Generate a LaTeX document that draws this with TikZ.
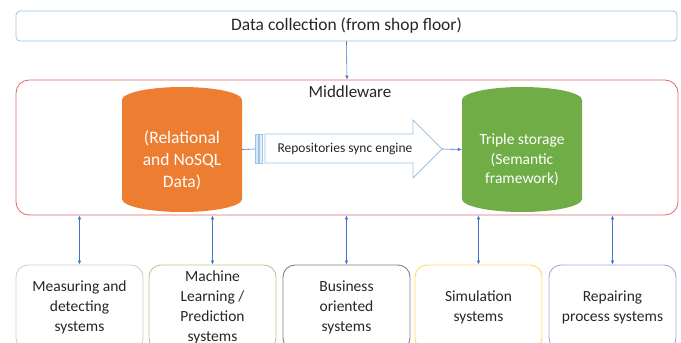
\documentclass[tikz,border=0pt]{standalone}
\usepackage{fontspec}
\setmainfont{Carlito}
\usetikzlibrary{arrows.meta}
\definecolor{topblue}{HTML}{9DC3E6}
\definecolor{midred}{HTML}{E06666}
\definecolor{linkblue}{HTML}{4472C4}
\definecolor{dborange}{HTML}{ED7D31}
\definecolor{dbgreen}{HTML}{70AD47}
\definecolor{bgray}{HTML}{D0D0D0}
\definecolor{bgreen}{HTML}{A9D18E}
\definecolor{bdark}{HTML}{808080}
\definecolor{byellow}{HTML}{FFD966}
\definecolor{bpurple}{HTML}{B4A0DC}
\begin{document}
\begin{tikzpicture}[x=1pt,y=-1pt,
  txt/.style={font=\fontsize{15.5}{20}\selectfont, align=center, text=black!85},
  sysbox/.style={draw, line width=0.9pt, rounded corners=12pt, minimum width=127pt, minimum height=85pt, txt},
  link/.style={draw=linkblue, line width=0.6pt, -{Latex[length=4pt,width=3.5pt]}},
  blink/.style={draw=linkblue, line width=0.6pt, {Latex[length=4pt,width=3.5pt]}-{Latex[length=4pt,width=3.5pt]}},
  dbtxt/.style={font=\fontsize{17.5}{22}\selectfont, align=center, text=white}]
\useasboundingbox (0,0) rectangle (681,343);
% top box
\node[draw=topblue, line width=0.8pt, rounded corners=4pt, minimum width=661pt, minimum height=30pt, txt, font=\fontsize{17.5}{20}\selectfont] (data) at (346.5,26) {Data collection (from shop floor)};
% middleware
\node[draw=midred, line width=0.8pt, rounded corners=13pt, minimum width=662pt, minimum height=135pt] (mw) at (347,147.5) {};
\node[txt, font=\fontsize{17}{20}\selectfont] (mwlabel) at (350,92) {Middleware};
\draw[link] (data.south) -- (mw.north);
% orange cylinder
\fill[dborange] (122,100) -- (122,199) arc[start angle=180, end angle=0, x radius=60, y radius=13] -- (242,100) arc[start angle=0, end angle=-180, x radius=60, y radius=13] -- cycle;
\node[minimum width=120pt, minimum height=125pt, inner sep=0pt] (db1) at (182,149.5) {};
\node[dbtxt] (db1t) at (182,160) {(Relational\\and NoSQL\\Data)};
% green cylinder
\fill[dbgreen] (462,100) -- (462,199) arc[start angle=180, end angle=0, x radius=60, y radius=13] -- (582,100) arc[start angle=0, end angle=-180, x radius=60, y radius=13] -- cycle;
\node[minimum width=120pt, minimum height=125pt, inner sep=0pt] (db2) at (522,149.5) {};
\node[dbtxt, font=\fontsize{15.5}{19.5}\selectfont] (db2t) at (522,160) {Triple storage\\(Semantic\\framework)};
% block arrow
\draw[topblue, line width=0.8pt, fill=white] (265,134) -- (413,134) -- (413,120) -- (442,149) -- (413,178) -- (413,163) -- (265,163) -- cycle;
\draw[topblue, line width=0.8pt, fill=topblue!40] (255,134) rectangle (258.5,163);
\draw[topblue, line width=0.8pt, fill=topblue!25] (259.5,134) rectangle (262.5,163);
\node[font=\fontsize{13.5}{16}\selectfont, text=black!85] (sync) at (345,149) {Repositories sync engine};
\coordinate (synctail) at (255,149);
\coordinate (synctip) at (442,149);
\draw[draw=linkblue, line width=0.6pt] (db1.east) -- (synctail);
\draw[link] (synctip) -- (db2.west);
% bottom boxes
\node[sysbox, draw=bgray] (s1) at (79.5,307.5) {Measuring and\\detecting\\systems};
\node[sysbox, draw=bgreen] (s2) at (212.5,307.5) {Machine\\Learning /\\Prediction\\systems};
\node[sysbox, draw=bdark] (s3) at (346.5,307.5) {Business\\oriented\\systems};
\node[sysbox, draw=byellow] (s4) at (478.5,307.5) {Simulation\\systems};
\node[sysbox, draw=bpurple] (s5) at (612.5,307.5) {Repairing\\process systems};
\foreach \n in {s1,s2,s3,s4,s5}{
  \draw[blink] (\n.north) -- (\n.north |- mw.south);
}
\end{tikzpicture}
\end{document}
